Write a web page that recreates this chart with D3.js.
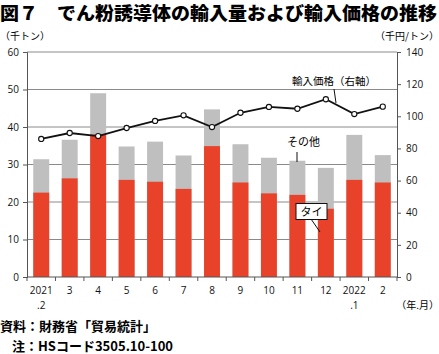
<!DOCTYPE html>
<html>
<head>
<meta charset="utf-8">
<script src="https://cdn.jsdelivr.net/npm/d3@7"></script>
<style>
  body { margin: 0; background: #fff; }
  svg { display: block; font-family: "Noto Sans CJK JP", "Noto Sans", sans-serif; }
</style>
</head>
<body>
<div id="chart"></div>
<script>
const months = ["2021\n.2", "3", "4", "5", "6", "7", "8", "9", "10", "11", "12", "2022\n.1", "2"];
const thai = [22.5, 26.3, 38.0, 25.9, 25.4, 23.5, 34.9, 25.2, 22.3, 21.9, 18.2, 25.9, 25.2];
const total = [31.4, 36.6, 49.0, 34.8, 36.1, 32.4, 44.7, 35.4, 31.8, 31.0, 29.1, 37.9, 32.5];
const price = [85.9, 89.6, 87.7, 92.7, 97.1, 100.6, 93.3, 102.2, 105.8, 104.7, 110.6, 101.4, 106.0];
const leftTicks = [0, 10, 20, 30, 40, 50, 60];
const rightTicks = [0, 20, 40, 60, 80, 100, 120, 140];

const W = 439, H = 354;
const margin = {top: 52, right: 42, bottom: 77, left: 27};
const width = W - margin.left - margin.right;
const height = H - margin.top - margin.bottom;

const svg = d3.select("#chart").append("svg")
    .attr("width", W).attr("height", H);

// title
svg.append("text")
    .attr("x", 0).attr("y", 20)
    .attr("textLength", 437).attr("lengthAdjust", "spacingAndGlyphs")
    .style("font-size", "18.5px").style("font-weight", "900")
    .text("図７　でん粉誘導体の輸入量および輸入価格の推移");

const g = svg.append("g").attr("transform", `translate(${margin.left},${margin.top})`);

const x = d3.scaleBand().domain(months).range([0, width]).paddingInner(0.44).paddingOuter(0.22);
const y = d3.scaleLinear().domain([0, 60]).range([height, 0]);
const y2 = d3.scaleLinear().domain([0, 140]).range([height, 0]);

// grid
g.selectAll(".grid").data(leftTicks.slice(1)).enter().append("line")
    .attr("x1", 0).attr("x2", width)
    .attr("y1", d => y(d)).attr("y2", d => y(d))
    .attr("stroke", "#8a8a8a").attr("stroke-width", 1);

// bars
g.selectAll(".other").data(months).enter().append("rect")
    .attr("x", d => x(d)).attr("width", x.bandwidth())
    .attr("y", (d, i) => y(total[i]))
    .attr("height", (d, i) => y(0) - y(total[i]))
    .attr("fill", "#bfbfbf");
g.selectAll(".thai").data(months).enter().append("rect")
    .attr("x", d => x(d)).attr("width", x.bandwidth())
    .attr("y", (d, i) => y(thai[i]))
    .attr("height", (d, i) => y(0) - y(thai[i]))
    .attr("fill", "#e8432a");

// axes
const axisColor = "#555";
const leftAxis = g.append("g").call(d3.axisLeft(y).tickValues(leftTicks).tickSize(4).tickPadding(4));
const rightAxis = g.append("g").attr("transform", `translate(${width},0)`)
    .call(d3.axisRight(y2).tickValues(rightTicks).tickSize(4).tickPadding(5));
[leftAxis, rightAxis].forEach(a => {
    a.select(".domain").attr("stroke", axisColor);
    a.selectAll(".tick line").attr("stroke", axisColor);
    a.selectAll("text").style("font-size", "10px").style("font-family", "'Open Sans', sans-serif").attr("fill", "#111");
});

// x axis
g.append("line").attr("x1", 0).attr("x2", width).attr("y1", height).attr("y2", height).attr("stroke", axisColor);
const step = x.step();
const bounds = d3.range(months.length + 1).map(i => x(months[0]) - x.step() * x.paddingInner() / 2 + i * step);
g.selectAll(".xtick").data(bounds).enter().append("line")
    .attr("x1", d => Math.max(0, Math.min(width, d))).attr("x2", d => Math.max(0, Math.min(width, d)))
    .attr("y1", height).attr("y2", height + 4)
    .attr("stroke", axisColor);
const xl = g.selectAll(".xlabel").data(months).enter().append("text")
    .attr("x", d => x(d) + x.bandwidth() / 2)
    .attr("y", height + 17)
    .attr("text-anchor", "middle")
    .style("font-size", "10px").style("font-family", "'Open Sans', sans-serif")
    .attr("fill", "#111");
xl.each(function(d) {
    const parts = d.split("\n");
    d3.select(this).selectAll("tspan").data(parts).enter().append("tspan")
        .attr("x", x(d) + x.bandwidth() / 2)
        .attr("dy", (p, i) => i === 0 ? 0 : 15)
        .text(p => p);
});

// price line
const line = d3.line().x((d, i) => x(months[i]) + x.bandwidth() / 2).y(d => y2(d));
g.append("path").datum(price).attr("d", line)
    .attr("fill", "none").attr("stroke", "#111").attr("stroke-width", 1.8);
g.selectAll(".pt").data(price).enter().append("circle")
    .attr("cx", (d, i) => x(months[i]) + x.bandwidth() / 2)
    .attr("cy", d => y2(d)).attr("r", 2.6)
    .attr("fill", "#fff").attr("stroke", "#111").attr("stroke-width", 1.1);

// unit labels
svg.append("text").attr("x", 0).attr("y", 40).style("font-size", "10px").text("（千トン）");
svg.append("text").attr("x", 439).attr("y", 40).attr("text-anchor", "end").style("font-size", "10px").text("（千円/トン）");
svg.append("text").attr("x", 439).attr("y", 309).attr("text-anchor", "end").style("font-size", "10px").text("（年.月）");

// annotations
svg.append("text").attr("x", 292).attr("y", 85).style("font-size", "10.5px").text("輸入価格（右軸）");
svg.append("line").attr("x1", 334).attr("y1", 89).attr("x2", 336).attr("y2", 103).attr("stroke", "#111");
svg.append("text").attr("x", 287).attr("y", 146).style("font-size", "11px").text("その他");
svg.append("line").attr("x1", 297).attr("y1", 152).attr("x2", 297).attr("y2", 162).attr("stroke", "#111");
svg.append("line").attr("x1", 311).attr("y1", 219).attr("x2", 320).attr("y2", 232).attr("stroke", "#111");
svg.append("rect").attr("x", 296).attr("y", 203.5).attr("width", 31).attr("height", 16)
    .attr("fill", "#fff").attr("stroke", "#111").attr("stroke-width", 1);
svg.append("text").attr("x", 311.5).attr("y", 215.5).attr("text-anchor", "middle").style("font-size", "11px").text("タイ");

// source
svg.append("text").attr("x", 0).attr("y", 331).style("font-size", "13px").style("font-weight", "700")
    .text("資料：財務省「貿易統計」");
svg.append("text").attr("x", 12).attr("y", 351).style("font-size", "13px").style("font-weight", "700")
    .text("注：HSコード3505.10-100");
</script>
</body>
</html>
